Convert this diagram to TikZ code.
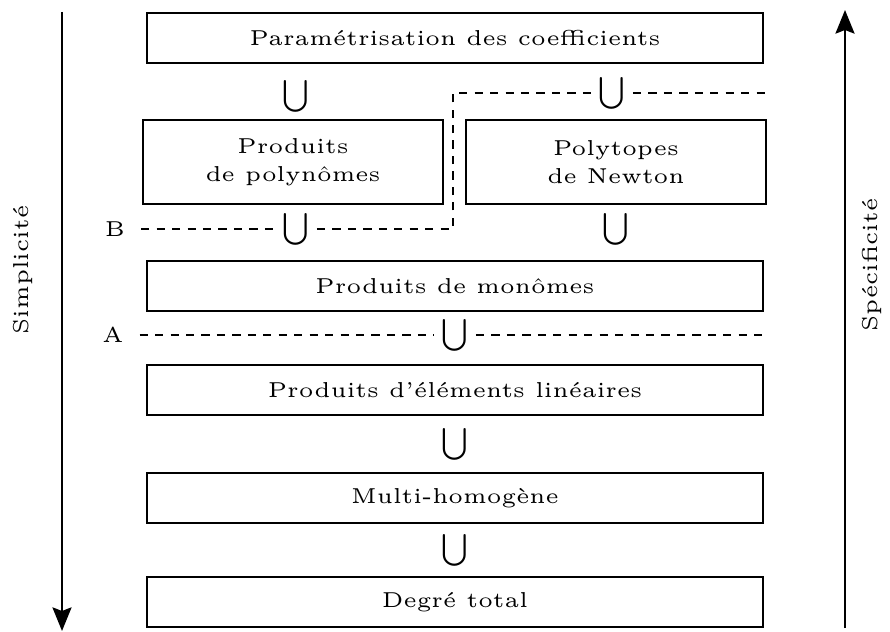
\documentclass[tikz,border=0pt]{standalone}
\usetikzlibrary{arrows.meta}
\newcommand{\inclus}{\scalebox{0.7}{\normalsize$\bigcup$}}
\begin{document}
\begin{tikzpicture}[x=0.22pt,y=-0.22pt,font=\fontsize{4.75}{6.2}\selectfont,
    boite/.style={draw,line width=0.45pt,minimum width=135.5pt,minimum height=11pt,inner sep=0pt},
    petiteboite/.style={boite,minimum width=66pt,minimum height=18.5pt,align=center},
    union/.style={inner xsep=1.5pt,inner ysep=0pt},
    sep/.style={line width=0.45pt,dash pattern=on 1.8pt off 1.6pt},
    fleche/.style={line width=0.45pt,-{Stealth[length=5.2pt,width=4.2pt,inset=0.8pt]}}]
  \useasboundingbox (0,0) rectangle (890,632);

  \node[boite] (param) at (455,38) {Paramétrisation des coefficients};
  \node[petiteboite] (polyn) at (293,162) {Produits\\de polynômes};
  \node[petiteboite] (newton) at (616,162) {Polytopes\\de Newton};
  \node[boite] (monom) at (455,286) {Produits de monômes};
  \node[boite] (lin) at (455,390) {Produits d'éléments linéaires};
  \node[boite] (multi) at (455,498) {Multi-homogène};
  \node[boite] (total) at (455,602) {Degré total};

  \node[union] (u1) at (296,96) {\inclus};
  \node[union] (u2) at (612,93) {\inclus};
  \node[union] (u3) at (296,229) {\inclus};
  \node[union] (u4) at (616,229) {\inclus};
  \node[union] (u5) at (455,335) {\inclus};
  \node[union] (u6) at (455,444) {\inclus};
  \node[union] (u7) at (455,550) {\inclus};

  \node (B) at (115,229) {B};
  \node (A) at (113,335) {A};
  \coordinate (coudeB) at (453,229);
  \coordinate (coudeH) at (453,93);
  \coordinate (finH) at (765,93);
  \coordinate (finA) at (765,335);
  \draw[sep] (B) -- (u3) -- (coudeB) -- (coudeH) -- (u2) -- (finH);
  \draw[sep] (A) -- (u5) -- (finA);

  \coordinate (simplH) at (62,12);
  \coordinate (simplB) at (62,631);
  \coordinate (specB) at (845,628);
  \coordinate (specH) at (845,10);
  \draw[fleche] (simplH) -- (simplB);
  \draw[fleche] (specB) -- (specH);
  \node[rotate=90] (simpl) at (23,270) {Simplicité};
  \node[rotate=90] (spec) at (872,265) {Spécificité};
\end{tikzpicture}
\end{document}
